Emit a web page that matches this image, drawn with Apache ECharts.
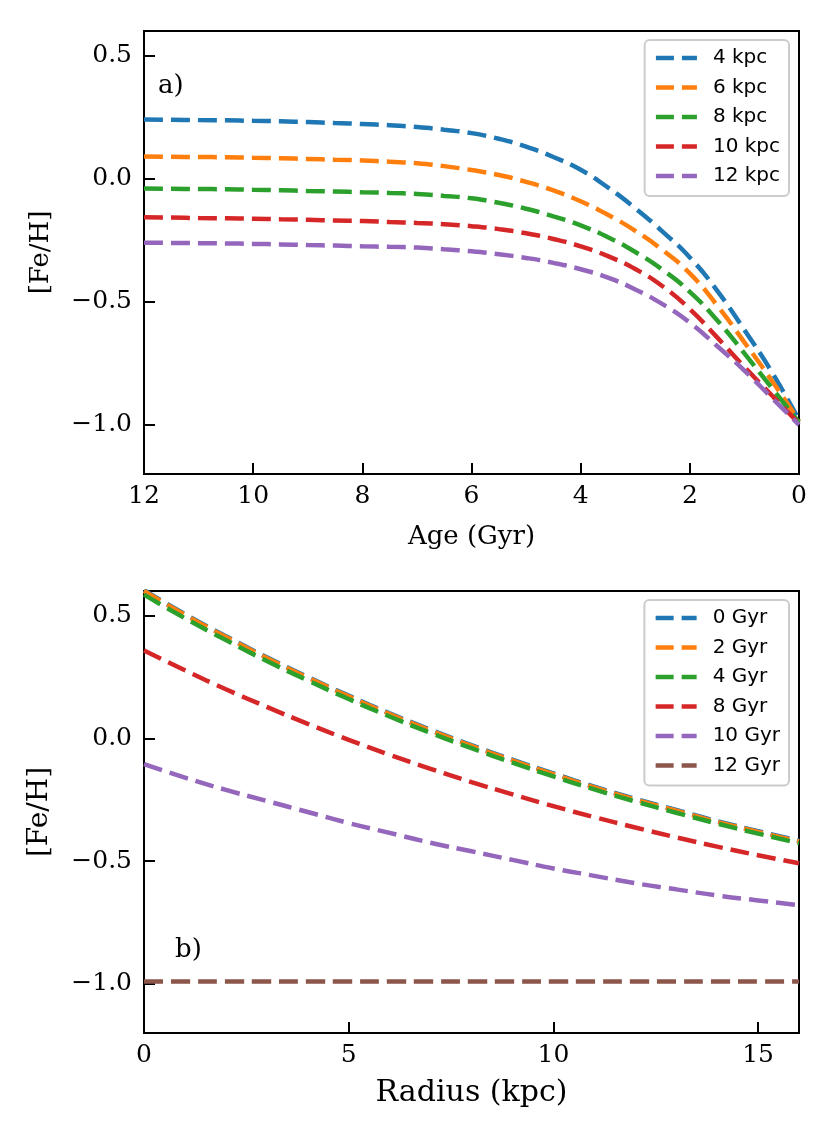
<!DOCTYPE html>
<html>
<head>
<meta charset="utf-8">
<script src="https://cdn.jsdelivr.net/npm/echarts@6/dist/echarts.min.js"></script>
<style>
    html, body { margin: 0; padding: 0; background: #fff; }
    #chart { width: 832px; height: 1139px; }
</style>
</head>
<body>
<div id="chart"></div>
<script>
// panel a) : [Fe/H] vs age at several radii
var ages = [12, 11.5, 11, 10.5, 10, 9.5, 9, 8.5, 8, 7.5, 7, 6.5, 6, 5.5, 5, 4.5, 4, 3.5, 3, 2.5, 2, 1.5, 1, 0.5, 0];
var feh4kpc = [0.24, 0.239, 0.238, 0.237, 0.235, 0.233, 0.23, 0.226, 0.222, 0.217, 0.21, 0.199, 0.185, 0.162, 0.13, 0.088, 0.036, -0.036, -0.12, -0.215, -0.32, -0.455, -0.615, -0.785, -0.98];
var feh6kpc = [0.09, 0.089, 0.088, 0.087, 0.085, 0.083, 0.08, 0.077, 0.074, 0.069, 0.063, 0.051, 0.035, 0.015, -0.013, -0.048, -0.092, -0.147, -0.212, -0.29, -0.385, -0.515, -0.665, -0.82, -0.985];
var feh8kpc = [-0.04, -0.041, -0.042, -0.043, -0.045, -0.047, -0.05, -0.052, -0.055, -0.058, -0.062, -0.07, -0.08, -0.098, -0.122, -0.153, -0.19, -0.238, -0.298, -0.37, -0.46, -0.575, -0.71, -0.85, -0.99];
var feh10kpc = [-0.157, -0.158, -0.16, -0.161, -0.163, -0.165, -0.167, -0.17, -0.172, -0.176, -0.18, -0.185, -0.193, -0.205, -0.222, -0.245, -0.275, -0.315, -0.367, -0.437, -0.53, -0.645, -0.765, -0.88, -0.995];
var feh12kpc = [-0.26, -0.261, -0.262, -0.263, -0.265, -0.267, -0.27, -0.272, -0.275, -0.277, -0.28, -0.287, -0.295, -0.307, -0.322, -0.342, -0.368, -0.402, -0.45, -0.51, -0.585, -0.68, -0.78, -0.89, -1.0];
var radiusNames = ['4 kpc', '6 kpc', '8 kpc', '10 kpc', '12 kpc'];

// panel b) : [Fe/H] vs radius at several ages
var radii = [0, 1, 2, 3, 4, 5, 6, 7, 8, 9, 10, 11, 12, 13, 14, 15, 16];
var feh0Gyr = [0.603, 0.506, 0.416, 0.33, 0.25, 0.174, 0.102, 0.035, -0.028, -0.087, -0.143, -0.197, -0.246, -0.292, -0.337, -0.378, -0.417];
var feh2Gyr = [0.60, 0.503, 0.413, 0.327, 0.247, 0.171, 0.099, 0.032, -0.031, -0.09, -0.146, -0.20, -0.249, -0.295, -0.34, -0.381, -0.42];
var feh4Gyr = [0.585, 0.489, 0.40, 0.315, 0.236, 0.16, 0.089, 0.022, -0.04, -0.099, -0.155, -0.208, -0.257, -0.303, -0.347, -0.388, -0.427];
var feh8Gyr = [0.358, 0.277, 0.20, 0.128, 0.059, -0.006, -0.067, -0.124, -0.178, -0.228, -0.276, -0.321, -0.363, -0.403, -0.441, -0.476, -0.509];
var feh10Gyr = [-0.105, -0.16, -0.21, -0.255, -0.30, -0.345, -0.385, -0.425, -0.46, -0.495, -0.53, -0.56, -0.59, -0.615, -0.64, -0.66, -0.68];
var feh12Gyr = [-0.99, -0.99, -0.99, -0.99, -0.99, -0.99, -0.99, -0.99, -0.99, -0.99, -0.99, -0.99, -0.99, -0.99, -0.99, -0.99, -0.99];
var ageNames = ['0 Gyr', '2 Gyr', '4 Gyr', '8 Gyr', '10 Gyr', '12 Gyr'];

var yTicks = [-1.0, -0.5, 0.0, 0.5];
var ageTicks = [12, 10, 8, 6, 4, 2, 0];
var radiusTicks = [0, 5, 10, 15];

var colors = ['#1f77b4', '#ff7f0e', '#2ca02c', '#d62728', '#9467bd', '#8c564b'];
var SERIF = '"DejaVu Serif", serif';
var SANS = '"DejaVu Sans", sans-serif';

function pairs(xs, ys) {
    var out = [];
    for (var i = 0; i < xs.length; i++) {
        out.push([xs[i], ys[i]]);
    }
    return out;
}

function fmtY(v) {
    var s = (Math.abs(v) < 1e-9 ? 0 : v).toFixed(1);
    return s.replace('-', '\u2212');
}

function xAxisOf(gridIndex, min, max, ticks, inverse, name, nameSize, nameGap) {
    return {
        type: 'value', gridIndex: gridIndex, min: min, max: max, inverse: inverse,
        name: name, nameLocation: 'middle', nameGap: nameGap,
        nameTextStyle: {fontFamily: SERIF, fontSize: nameSize, color: '#000'},
        axisLine: {show: true, onZero: false, lineStyle: {color: '#000', width: 2}},
        axisTick: {show: true, inside: true, length: 11, customValues: ticks, lineStyle: {color: '#000', width: 2}},
        axisLabel: {fontFamily: SERIF, fontSize: 25, color: '#000', margin: 10, customValues: ticks},
        splitLine: {show: false}
    };
}

function yAxisOf(gridIndex, nameSize) {
    return {
        type: 'value', gridIndex: gridIndex, min: -1.2, max: 0.6,
        name: '[Fe/H]', nameLocation: 'middle', nameGap: 90,
        nameTextStyle: {fontFamily: SERIF, fontSize: nameSize, color: '#000'},
        axisLine: {show: true, onZero: false, lineStyle: {color: '#000', width: 2}},
        axisTick: {show: true, inside: true, length: 11, customValues: yTicks, lineStyle: {color: '#000', width: 2}},
        axisLabel: {fontFamily: SERIF, fontSize: 25, color: '#000', margin: 12, customValues: yTicks, formatter: fmtY},
        splitLine: {show: false}
    };
}

function lineOf(name, idx, axisIndex, data) {
    return {
        name: name, type: 'line', xAxisIndex: axisIndex, yAxisIndex: axisIndex,
        data: data, symbol: 'none', smooth: 0.5, animation: false,
        lineStyle: {color: colors[idx], width: 4.5, type: [19, 8]},
        itemStyle: {color: colors[idx]}
    };
}

function legendOf(names, top) {
    return {
        data: names, orient: 'vertical', right: 43, top: top,
        itemWidth: 41, itemHeight: 14, itemGap: 9.5,
        padding: [8, 9, 10, 9],
        backgroundColor: 'rgba(255,255,255,0.8)',
        borderColor: '#cccccc', borderWidth: 2, borderRadius: 5,
        lineStyle: {width: 4.5, type: [18, 8], cap: 'butt'},
        itemStyle: {opacity: 0},
        formatter: function (name) {
            return '{gap|}' + name;
        },
        textStyle: {
            fontFamily: SANS, fontSize: 20, lineHeight: 20, color: '#000',
            rich: {gap: {width: 11}}
        }
    };
}

var chart = echarts.init(document.getElementById('chart'));

var topSets = [feh4kpc, feh6kpc, feh8kpc, feh10kpc, feh12kpc];
var bottomSets = [feh0Gyr, feh2Gyr, feh4Gyr, feh8Gyr, feh10Gyr, feh12Gyr];
var series = [];
topSets.forEach(function (s, i) {
    series.push(lineOf(radiusNames[i], i, 0, pairs(ages, s)));
});
bottomSets.forEach(function (s, i) {
    series.push(lineOf(ageNames[i], i, 1, pairs(radii, s)));
});

chart.setOption({
    backgroundColor: '#fff',
    animation: false,
    grid: [
        {left: 144, top: 31, width: 655, height: 443, show: true, borderColor: '#000', borderWidth: 2, backgroundColor: 'transparent'},
        {left: 144, top: 591, width: 655, height: 442, show: true, borderColor: '#000', borderWidth: 2, backgroundColor: 'transparent'}
    ],
    xAxis: [
        xAxisOf(0, 0, 12, ageTicks, true, 'Age (Gyr)', 26, 50),
        xAxisOf(1, 0, 16, radiusTicks, false, 'Radius (kpc)', 30, 45)
    ],
    yAxis: [
        yAxisOf(0, 26),
        yAxisOf(1, 28)
    ],
    legend: [
        legendOf(radiusNames, 40),
        legendOf(ageNames, 600)
    ],
    graphic: [
        {type: 'text', style: {x: 158, y: 86, text: 'a)', font: '26px ' + SERIF, fill: '#000', textVerticalAlign: 'middle'}},
        {type: 'text', style: {x: 175, y: 950, text: 'b)', font: '26px ' + SERIF, fill: '#000', textVerticalAlign: 'middle'}}
    ],
    series: series
});
</script>
</body>
</html>
